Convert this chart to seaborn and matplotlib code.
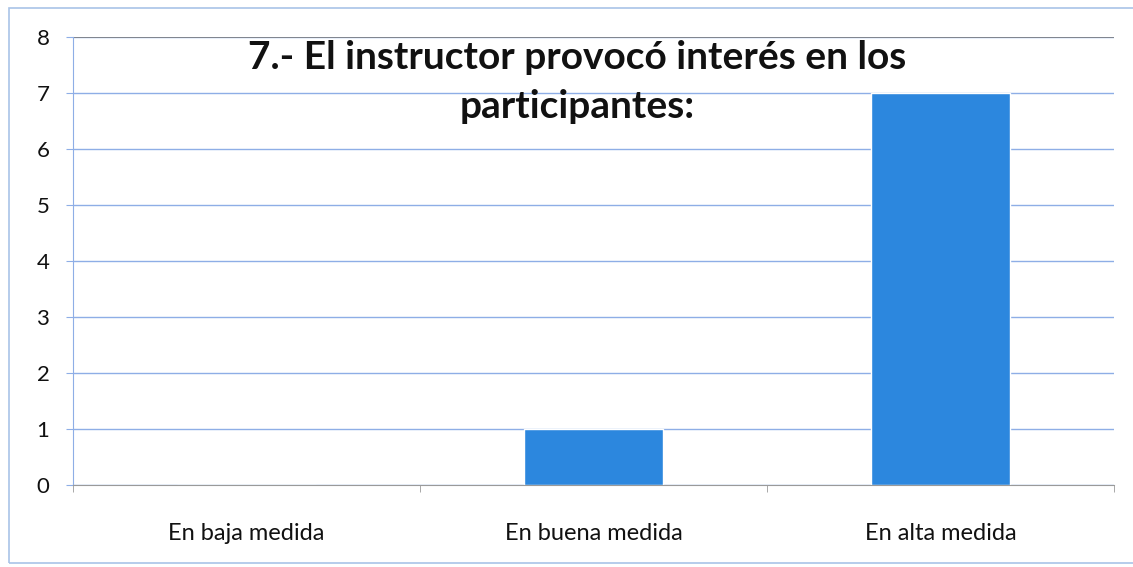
import matplotlib
matplotlib.use("Agg")
import matplotlib.pyplot as plt
import matplotlib.patches as mpatches
import pandas as pd
import seaborn as sns

# data
categorias = ["En baja medida", "En buena medida", "En alta medida"]
respuestas = [0, 1, 7]
titulo = "7.- El instructor provocó interés en los\nparticipantes:"

sns.set_style("white")
plt.rcParams["font.family"] = ["Lato", "DejaVu Sans"]

df = pd.DataFrame({"categoria": categorias, "valor": respuestas})

fig = plt.figure(figsize=(11.33, 5.67), dpi=100)
ax = fig.add_axes([73 / 1133, 1 - 485 / 567, (1114 - 73) / 1133, (485 - 37) / 567])

# light blue outer frame like the excel chart area
fig.patches.append(mpatches.Rectangle((9 / 1133, 4 / 567), 1.0, 555 / 567,
                                      transform=fig.transFigure, fill=False,
                                      edgecolor="#a9c4e8", linewidth=1.2))

ax.yaxis.grid(True, color="#8eaee6", linewidth=1.0)
ax.set_axisbelow(True)
sns.barplot(data=df, x="categoria", y="valor", color="#2c87de", width=0.4,
            saturation=1, ax=ax)

ax.set_ylim(0, 8)
ax.set_xlim(-0.5, 2.5)
ax.set_yticks(range(0, 9))
ax.set_xlabel("")
ax.set_ylabel("")
ax.tick_params(axis="y", labelsize=16, length=5, color="#8eaee6", pad=12,
               left=True, labelcolor="#111111")
ax.tick_params(axis="x", labelsize=17, length=0, pad=27, labelcolor="#111111")
# small tick marks at category boundaries
ax.set_xticks([-0.5, 0.5, 1.5, 2.5], minor=True)
ax.tick_params(axis="x", which="minor", length=5, color="#9a9a9a", bottom=True)

for s in ["top", "right"]:
    ax.spines[s].set_visible(False)
ax.spines["left"].set_color("#8eaee6")
ax.spines["bottom"].set_color("#9a9a9a")
ax.axhline(8, color="#7f7f7f", linewidth=1.2)

fig.text(577 / 1133, 1 - 40 / 567, titulo, ha="center", va="top",
         fontsize=28, fontweight="bold", linespacing=1.5, color="#111111")

fig.savefig("out.png", dpi=100)
